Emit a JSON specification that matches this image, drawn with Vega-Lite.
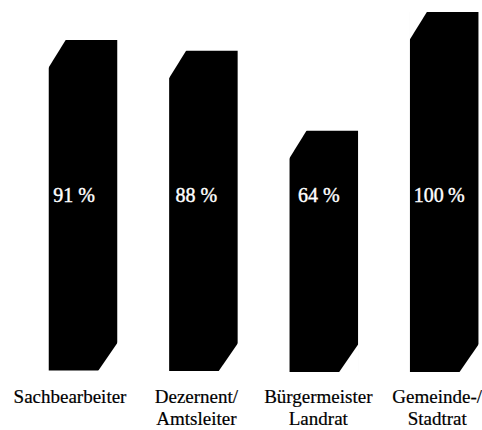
{
"$schema":"https://vega.github.io/schema/vega-lite/v6.json",
"width":482,"height":430,
"autosize":{"type":"none"},
"padding":0,
"background":"white",
"view":{"stroke":null},
"data":{"values":[
{"category":"Sachbearbeiter","top":92.2,"base":0.4,"percent":"91 %"},
{"category":"Dezernent/\nAmtsleiter","top":89.2,"base":0.3,"percent":"88 %"},
{"category":"Bürgermeister\nLandrat","top":67,"base":0,"percent":"64 %"},
{"category":"Gemeinde-/\nStadtrat","top":100,"base":0,"percent":"100\u2009%"}
]},
"encoding":{
"x":{"field":"category","type":"nominal","sort":null,"axis":null,
"scale":{"type":"band","range":[22.8,504.4],"paddingInner":0.431,"paddingOuter":0.2155}}
},
"layer":[
{"mark":{"type":"bar","color":"black"},
"encoding":{"y":{"field":"top","type":"quantitative","axis":null,"scale":{"domain":[-16.1,103.3],"nice":false,"zero":false}},"y2":{"field":"base"}}},
{"mark":{"type":"point","filled":true,"fill":"white","stroke":null,"opacity":1,"size":40000,"shape":"M-0.35,-0.01 L-0.167,-0.01 L-0.35,0.285 Z"},
"encoding":{"y":{"field":"top","type":"quantitative"}}},
{"mark":{"type":"point","filled":true,"fill":"white","stroke":null,"opacity":1,"size":40000,"shape":"M0.35,0.01 L0.147,0.01 L0.35,-0.285 Z"},
"encoding":{"y":{"field":"base","type":"quantitative"}}},
{"mark":{"type":"text","color":"white","stroke":"white","strokeWidth":0.4,"font":"Liberation Serif","fontSize":20,"baseline":"middle","xOffset":{"expr":"datum.category=='Sachbearbeiter'?-9:datum.category[0]=='D'?-7:-5"}},
"encoding":{"text":{"field":"percent"},"y":{"datum":49}}},
{"mark":{"type":"text","color":"black","stroke":"black","strokeWidth":0.2,"font":"Liberation Serif","fontSize":19,"baseline":"alphabetic","lineBreak":"\n","lineHeight":22,"xOffset":{"expr":"datum.category=='Sachbearbeiter'?-13:datum.category[0]=='D'?-7:datum.category[0]=='B'?-5.5:-7"}},
"encoding":{"text":{"field":"category"},"y":{"datum":-8.7}}}
]
}
